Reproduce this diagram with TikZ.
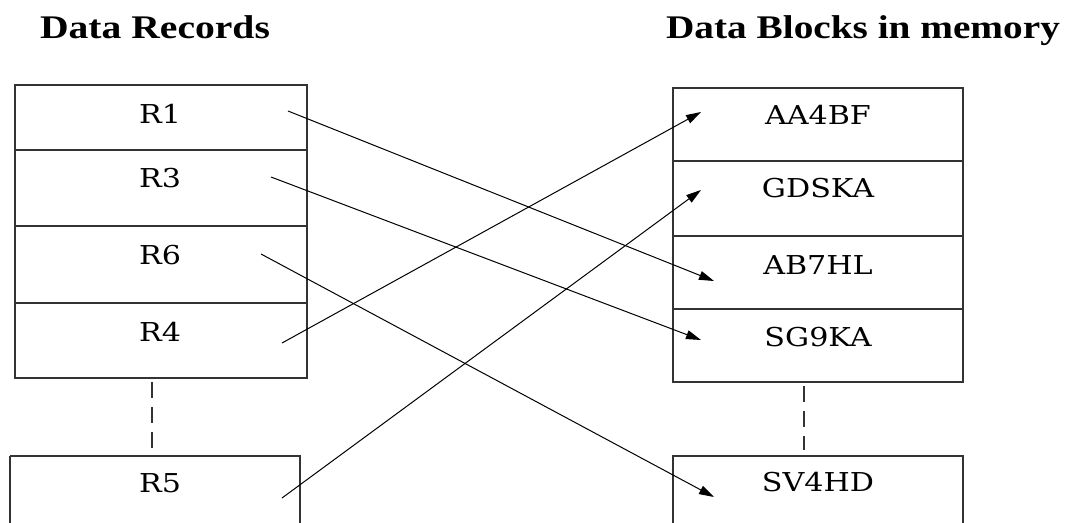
\documentclass[tikz,border=0pt]{standalone}
\usepackage{fontspec}
\usepackage{graphicx}
\usepackage{tikz}
\usetikzlibrary{arrows.meta,positioning}
\setmainfont{Liberation Serif}
\newfontfamily\cellfont{DejaVu Serif}
\definecolor{frame}{HTML}{333333}
\newcommand{\stretchtxt}[2]{\scalebox{#1}[1]{#2}}

\begin{document}
\begin{tikzpicture}[x=1pt,y=-1pt,
    heading/.style={font=\fontsize{33}{38}\selectfont\bfseries, anchor=base, inner sep=0pt},
    celltext/.style={font=\cellfont\fontsize{26}{30}\selectfont, inner sep=0pt},
    box/.style={draw=frame, line width=1.3pt},
    divider/.style={draw=frame, line width=1.1pt},
    gap/.style={draw=frame, line width=1.2pt, dash pattern=on 16pt off 9pt},
    link/.style={line width=1pt, -{Triangle[length=15pt,width=9pt]}}]
    \useasboundingbox (0,0) rectangle (1067,522);

    % Column headings
    \node[heading] (hrec) at (155,38) {\stretchtxt{1.2}{Data Records}};
    \node[heading] (hblk) at (863,38) {\stretchtxt{1.19}{Data Blocks in memory}};

    % Record table
    \draw[box] (15,85) rectangle (307,378);
    \foreach \y in {150,226,303} {
        \draw[divider] (15,\y) -- (307,\y);
    }
    \draw[gap] (152,382) -- (152,450);
    \draw[box] (10,456) -- (10,530) (10,456) -- (300,456) -- (300,530);

    % Block table
    \draw[box] (673,88) rectangle (963,382);
    \foreach \y in {161,236,309} {
        \draw[divider] (673,\y) -- (963,\y);
    }
    \draw[gap] (804,386) -- (804,450);
    \draw[box] (673,530) -- (673,456) -- (963,456) -- (963,530);

    % Cell labels
    \foreach \name/\txt/\y in {r1/R1/114, r3/R3/178, r6/R6/255, r4/R4/332, r5/R5/483} {
        \node[celltext] (\name) at (160,\y) {\stretchtxt{1.16}{\txt}};
    }
    \foreach \name/\txt/\y in {aa/AA4BF/115, gd/GDSKA/188, ab/AB7HL/265, sg/SG9KA/337, sv/SV4HD/482} {
        \node[celltext] (\name) at (818,\y) {\stretchtxt{1.16}{\txt}};
    }

    % Link end points
    \coordinate (r1out) at (288,111);
    \coordinate (r3out) at (271,177);
    \coordinate (r6out) at (261,254);
    \coordinate (r4out) at (282,343);
    \coordinate (r5out) at (282,498);
    \coordinate (aain) at (701,112);
    \coordinate (gdin) at (701,190);
    \coordinate (abin) at (714,281);
    \coordinate (sgin) at (701,340);
    \coordinate (svin) at (714,497);

    % Record to block links
    \draw[link] (r1out) -- (abin);
    \draw[link] (r3out) -- (sgin);
    \draw[link] (r6out) -- (svin);
    \draw[link] (r4out) -- (aain);
    \draw[link] (r5out) -- (gdin);
\end{tikzpicture}
\end{document}
